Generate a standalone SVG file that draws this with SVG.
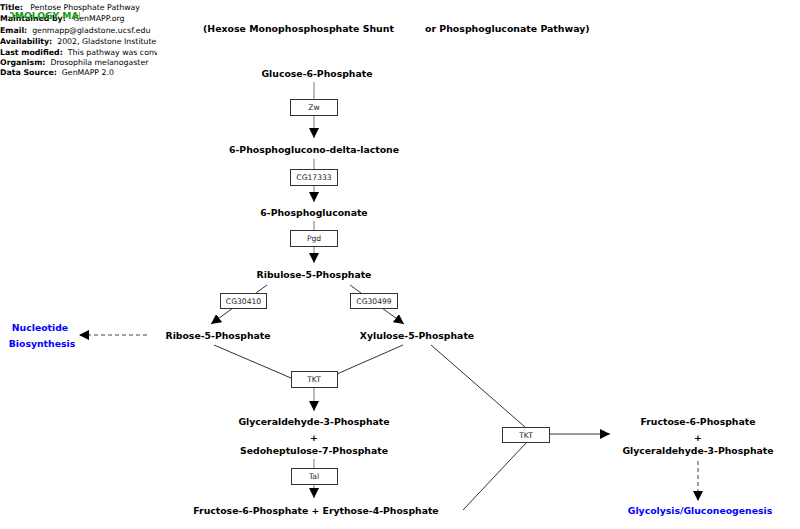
<svg xmlns="http://www.w3.org/2000/svg" width="800" height="529" viewBox="0 0 800 529">
<style>
.hdr{font-family:"DejaVu Sans",sans-serif;font-size:7.8px;fill:#000;white-space:pre}
.hb{font-weight:bold}
.ttl{font-family:"DejaVu Sans",sans-serif;font-size:9.4px;font-weight:bold;fill:#000}
.lbl{font-family:"DejaVu Sans",sans-serif;font-size:9.3px;font-weight:bold;fill:#000;text-anchor:middle}
.blue{fill:#0000ff}
.gene rect{fill:#fff;stroke:#333;stroke-width:1}
.gene text{font-family:"DejaVu Sans",sans-serif;font-size:7.6px;fill:#222;text-anchor:middle}
.ln{stroke:#333;stroke-width:1;fill:none}
.stem{stroke:#777;stroke-width:1;fill:none}
.dash{stroke:#444;stroke-width:1;fill:none;stroke-dasharray:4,3}
</style>
<defs>
<marker id="ah" markerWidth="10" markerHeight="10" refX="10" refY="5" orient="auto" markerUnits="userSpaceOnUse">
<path d="M0,0 L10,5 L0,10 Z" fill="#000"/>
</marker>
<clipPath id="hclip"><rect x="0" y="0" width="157" height="80"/></clipPath>
<clipPath id="gclip"><rect x="10" y="0" width="70" height="30"/></clipPath>
</defs>
<rect width="800" height="529" fill="#fff"/>
<g id="header" clip-path="url(#hclip)" xml:space="preserve">
<text class="hdr" x="0" y="10"><tspan class="hb">Title:</tspan>   Pentose Phosphate Pathway</text>
<text class="hdr" x="0" y="21"><tspan class="hb">Maintained by:</tspan>   GenMAPP.org</text>
<text class="hdr" x="0" y="33"><tspan class="hb">Email:</tspan>  genmapp@gladstone.ucsf.edu</text>
<text class="hdr" x="0" y="44"><tspan class="hb">Availability:</tspan>  2002, Gladstone Institute</text>
<text class="hdr" x="0" y="55"><tspan class="hb">Last modified:</tspan>  This pathway was converted</text>
<text class="hdr" x="0" y="65"><tspan class="hb">Organism:</tspan>  Drosophila melanogaster</text>
<text class="hdr" x="0" y="75"><tspan class="hb">Data Source:</tspan>  GenMAPP 2.0</text>
</g>
<g id="homology" clip-path="url(#gclip)">
<text x="-0.7" y="19" font-family="DejaVu Sans,sans-serif" font-size="9.2px" font-weight="bold" fill="#1a9a1a">HOMOLOGY MAPPED</text>
</g>
<g id="title">
<text class="ttl" x="203" y="32">(Hexose Monophosphosphate Shunt</text>
<text class="ttl" x="425" y="32">or Phosphogluconate Pathway)</text>
</g>
<g id="connectors">
<line class="stem" x1="314" y1="82" x2="314" y2="99"/>
<line class="stem" x1="314" y1="115" x2="314" y2="138" marker-end="url(#ah)"/>
<line class="stem" x1="314" y1="159" x2="314" y2="169"/>
<line class="stem" x1="314" y1="185" x2="314" y2="202" marker-end="url(#ah)"/>
<line class="stem" x1="314" y1="221" x2="314" y2="230"/>
<line class="stem" x1="314" y1="246" x2="314" y2="263" marker-end="url(#ah)"/>
<line class="ln" x1="267" y1="285" x2="256" y2="293"/>
<line class="ln" x1="233" y1="308" x2="211" y2="324" marker-end="url(#ah)"/>
<line class="ln" x1="350" y1="285" x2="361" y2="293"/>
<line class="ln" x1="382" y1="308" x2="404" y2="324" marker-end="url(#ah)"/>
<line class="dash" x1="147" y1="335" x2="79" y2="335" marker-end="url(#ah)"/>
<line class="ln" x1="214" y1="345" x2="291" y2="378"/>
<line class="ln" x1="403" y1="345" x2="337" y2="374"/>
<line class="stem" x1="314" y1="387" x2="314" y2="411" marker-end="url(#ah)"/>
<line class="stem" x1="314" y1="459" x2="314" y2="468"/>
<line class="stem" x1="314" y1="484" x2="314" y2="498" marker-end="url(#ah)"/>
<line class="ln" x1="431" y1="345" x2="525" y2="427"/>
<line class="ln" x1="463" y1="510" x2="527" y2="442"/>
<line class="ln" x1="549" y1="434" x2="610" y2="434" marker-end="url(#ah)"/>
<line class="dash" x1="698" y1="461" x2="698" y2="501" marker-end="url(#ah)"/>
</g>
<g id="g6p"><text class="lbl" x="317" y="77">Glucose-6-Phosphate</text></g>
<g id="zw" class="gene"><rect x="290.5" y="99.5" width="47" height="16"/><text x="314" y="110">Zw</text></g>
<g id="pgdl"><text class="lbl" x="314" y="153">6-Phosphoglucono-delta-lactone</text></g>
<g id="cg17333" class="gene"><rect x="290.5" y="169.5" width="47" height="16"/><text x="314" y="180">CG17333</text></g>
<g id="pg"><text class="lbl" x="314" y="216">6-Phosphogluconate</text></g>
<g id="pgd" class="gene"><rect x="290.5" y="230.5" width="47" height="16"/><text x="314" y="241">Pgd</text></g>
<g id="ru5p"><text class="lbl" x="314" y="278">Ribulose-5-Phosphate</text></g>
<g id="cg30410" class="gene"><rect x="220.5" y="293.5" width="46" height="15"/><text x="243.5" y="304">CG30410</text></g>
<g id="cg30499" class="gene"><rect x="350.5" y="293.5" width="47" height="15"/><text x="374" y="304">CG30499</text></g>
<g id="r5p"><text class="lbl" x="218" y="339">Ribose-5-Phosphate</text></g>
<g id="x5p"><text class="lbl" x="417" y="339">Xylulose-5-Phosphate</text></g>
<g id="nucleotide"><text class="lbl blue" x="40" y="331">Nucleotide</text><text class="lbl blue" x="42" y="347">Biosynthesis</text></g>
<g id="tkt1" class="gene"><rect x="291.5" y="371.5" width="46" height="16"/><text x="314" y="382">TKT</text></g>
<g id="g3ps7p"><text class="lbl" x="314" y="425">Glyceraldehyde-3-Phosphate</text><text class="lbl" x="314" y="441">+</text><text class="lbl" x="314" y="454">Sedoheptulose-7-Phosphate</text></g>
<g id="tal" class="gene"><rect x="291.5" y="468.5" width="46" height="16"/><text x="314" y="479">Tal</text></g>
<g id="f6pe4p"><text class="lbl" x="316" y="514">Fructose-6-Phosphate + Erythose-4-Phosphate</text></g>
<g id="tkt2" class="gene"><rect x="502.5" y="427.5" width="47" height="15"/><text x="526" y="438">TKT</text></g>
<g id="f6pg3p"><text class="lbl" x="698" y="425">Fructose-6-Phosphate</text><text class="lbl" x="698" y="441">+</text><text class="lbl" x="698" y="454">Glyceraldehyde-3-Phosphate</text></g>
<g id="glycolysis"><text class="lbl blue" x="700" y="514">Glycolysis/Gluconeogenesis</text></g>
</svg>
